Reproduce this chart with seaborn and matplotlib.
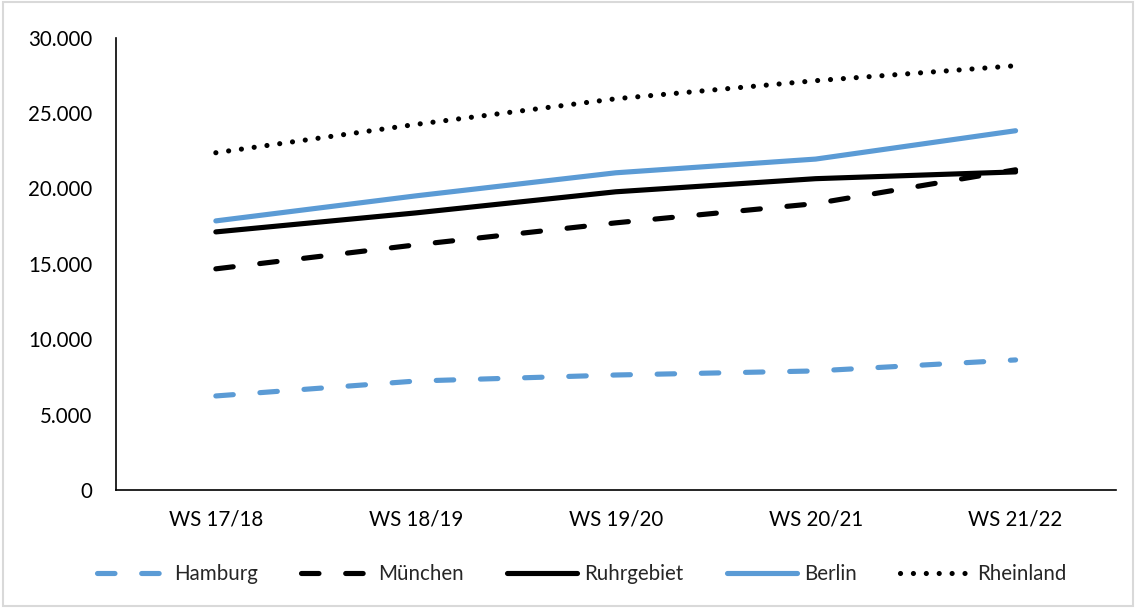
import numpy as np
import pandas as pd
import matplotlib
matplotlib.use("Agg")
import matplotlib.pyplot as plt
import seaborn as sns
from matplotlib.ticker import FuncFormatter, MultipleLocator
from matplotlib.patches import Rectangle

#%% Data
semester = ["WS 17/18", "WS 18/19", "WS 19/20", "WS 20/21", "WS 21/22"]
hamburg = [6240, 7230, 7630, 7900, 8630]
muenchen = [14670, 16260, 17720, 19000, 21240]
ruhrgebiet = [17120, 18380, 19780, 20650, 21100]
berlin = [17850, 19510, 21040, 21950, 23830]
rheinland = [22370, 24250, 25950, 27150, 28140]

#%% Styling
sns.set_style("white")
plt.rcParams['font.family'] = ['Lato', 'DejaVu Sans']

blue = "#5B9BD5"
lw = 3.7
styles = [
    ("Hamburg", hamburg, blue, (0, (3.4, 5.2))),
    ("München", muenchen, "black", (0, (3.4, 5.2))),
    ("Ruhrgebiet", ruhrgebiet, "black", "-"),
    ("Berlin", berlin, blue, "-"),
    ("Rheinland", rheinland, "black", (0, (0.01, 2.5))),
]

fig = plt.figure(figsize=(11.36, 6.08), dpi=100)
ax = fig.add_axes([0.102, 0.194, 0.880, 0.744])

x = np.arange(len(semester))
for name, vals, col, ls in styles:
    df = pd.DataFrame({"x": x, "y": vals})
    sns.lineplot(data=df, x="x", y="y", ax=ax, color=col, linestyle=ls,
                 linewidth=lw, label=name, dash_capstyle="round",
                 solid_capstyle="round", solid_joinstyle="round")

ax.set_xlim(-0.5, len(semester) - 0.5)
ax.set_ylim(0, 30000)
ax.set_xticks(x)
ax.set_xticklabels(semester)
ax.yaxis.set_major_locator(MultipleLocator(5000))
ax.yaxis.set_major_formatter(FuncFormatter(lambda v, p: f"{int(v):,}".replace(",", ".")))
ax.set_xlabel("")
ax.set_ylabel("")

for s in ["top", "right"]:
    ax.spines[s].set_visible(False)
for s in ["left", "bottom"]:
    ax.spines[s].set_color("black")
    ax.spines[s].set_linewidth(1.2)

ax.tick_params(axis="y", length=0, pad=17, labelsize=14.8, labelcolor="black")
ax.tick_params(axis="x", length=0, pad=14, labelsize=14.8, labelcolor="black")

ax.get_legend().remove()
handles, labels = ax.get_legend_handles_labels()
fig.legend(handles, labels, loc="center", bbox_to_anchor=(0.512, 0.056), ncol=5,
           frameon=False, fontsize=14.8, handlelength=3.4, handletextpad=0.35,
           columnspacing=2.1)

# light frame around the chart area
fig.patches.append(Rectangle((0.003, 0.003), 0.994, 0.994, transform=fig.transFigure,
                             fill=False, edgecolor="#d9d9d9", linewidth=1.5))

fig.savefig("out.png", dpi=100)
